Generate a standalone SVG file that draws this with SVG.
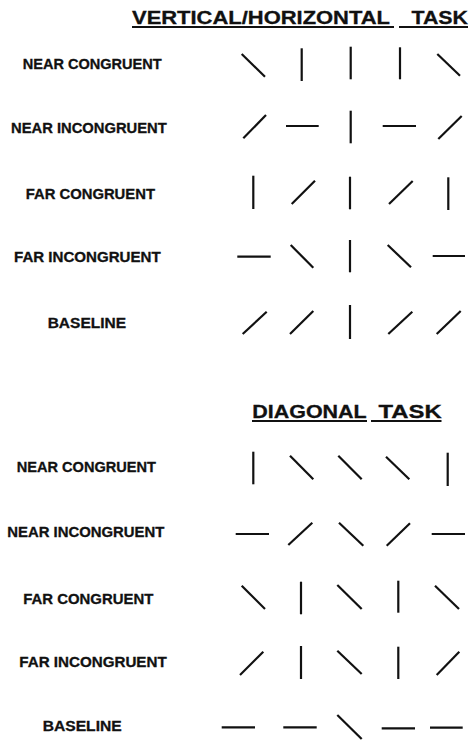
<svg xmlns="http://www.w3.org/2000/svg" width="470" height="740" viewBox="0 0 470 740">
<style>
  .ttl { font-family: "Liberation Sans", Arial, sans-serif; font-weight: bold; font-size: 18px; fill: #111; stroke: #111; stroke-width: 0.3; }
  .lbl { font-family: "Liberation Sans", Arial, sans-serif; font-weight: bold; font-size: 14px; fill: #111; stroke: #111; stroke-width: 0.3; }
  .ul { stroke: #111; stroke-width: 1.8; fill: none; }
  .seg { stroke: #111; stroke-width: 2.2; stroke-linecap: butt; fill: none; }
</style>
<rect width="470" height="740" fill="#fff"/>

<g id="title-vh">
  <text class="ttl" x="132" y="24" textLength="258" lengthAdjust="spacingAndGlyphs">VERTICAL/HORIZONTAL</text>
  <text class="ttl" x="411.5" y="24" textLength="56.5" lengthAdjust="spacingAndGlyphs">TASK</text>
  <line class="ul" x1="132" y1="27" x2="394" y2="27"/>
  <line class="ul" x1="399" y1="27" x2="468" y2="27"/>
</g>

<g id="vh-near-congruent">
  <text class="lbl" x="22.7" y="69.3" textLength="139" lengthAdjust="spacingAndGlyphs">NEAR CONGRUENT</text>
  <line class="seg" x1="241.7" y1="54" x2="265" y2="76.7"/>
  <line class="seg" x1="301.7" y1="48.3" x2="301.7" y2="81"/>
  <line class="seg" x1="350.7" y1="46.7" x2="350.7" y2="79.3"/>
  <line class="seg" x1="400" y1="47.3" x2="400" y2="79.3"/>
  <line class="seg" x1="437.3" y1="54" x2="460" y2="75.7"/>
</g>

<g id="vh-near-incongruent">
  <text class="lbl" x="11" y="133.3" textLength="155.7" lengthAdjust="spacingAndGlyphs">NEAR INCONGRUENT</text>
  <line class="seg" x1="243.3" y1="138.3" x2="266" y2="115"/>
  <line class="seg" x1="286" y1="126" x2="318.7" y2="126"/>
  <line class="seg" x1="350.7" y1="110.7" x2="350.7" y2="143.3"/>
  <line class="seg" x1="382.7" y1="126" x2="416" y2="126"/>
  <line class="seg" x1="438.3" y1="139" x2="461.7" y2="116"/>
</g>

<g id="vh-far-congruent">
  <text class="lbl" x="25.7" y="199" textLength="129.3" lengthAdjust="spacingAndGlyphs">FAR CONGRUENT</text>
  <line class="seg" x1="253.3" y1="175.7" x2="253.3" y2="209"/>
  <line class="seg" x1="291.7" y1="204" x2="315" y2="180.7"/>
  <line class="seg" x1="350" y1="176.7" x2="350" y2="209.3"/>
  <line class="seg" x1="389" y1="204" x2="412.7" y2="181"/>
  <line class="seg" x1="448.3" y1="177.3" x2="448.3" y2="210"/>
</g>

<g id="vh-far-incongruent">
  <text class="lbl" x="14" y="261.7" textLength="146.7" lengthAdjust="spacingAndGlyphs">FAR INCONGRUENT</text>
  <line class="seg" x1="237.3" y1="256.7" x2="270.7" y2="256.7"/>
  <line class="seg" x1="290.7" y1="245" x2="313.3" y2="267.7"/>
  <line class="seg" x1="350" y1="240" x2="350" y2="272.3"/>
  <line class="seg" x1="387.7" y1="245" x2="411" y2="267.3"/>
  <line class="seg" x1="432.7" y1="256" x2="465" y2="256"/>
</g>

<g id="vh-baseline">
  <text class="lbl" x="47.7" y="328.3" textLength="78.3" lengthAdjust="spacingAndGlyphs">BASELINE</text>
  <line class="seg" x1="242.7" y1="334" x2="266.7" y2="311.7"/>
  <line class="seg" x1="290" y1="334" x2="313.3" y2="311"/>
  <line class="seg" x1="350" y1="305" x2="350" y2="339"/>
  <line class="seg" x1="388.3" y1="334" x2="412.3" y2="311.7"/>
  <line class="seg" x1="436.7" y1="334" x2="460.7" y2="311"/>
</g>

<g id="title-diag">
  <text class="ttl" x="252.3" y="418.3" textLength="114.4" lengthAdjust="spacingAndGlyphs">DIAGONAL</text>
  <text class="ttl" x="378.5" y="418.3" textLength="63.2" lengthAdjust="spacingAndGlyphs">TASK</text>
  <line class="ul" x1="252" y1="421" x2="367" y2="421"/>
  <line class="ul" x1="371" y1="421" x2="441.5" y2="421"/>
</g>

<g id="d-near-congruent">
  <text class="lbl" x="16.7" y="472.3" textLength="139.3" lengthAdjust="spacingAndGlyphs">NEAR CONGRUENT</text>
  <line class="seg" x1="253.3" y1="451.7" x2="253.3" y2="484.3"/>
  <line class="seg" x1="290" y1="455.7" x2="313.3" y2="479.3"/>
  <line class="seg" x1="338.3" y1="455.7" x2="361.7" y2="479.3"/>
  <line class="seg" x1="386" y1="456.7" x2="409.3" y2="479.3"/>
  <line class="seg" x1="447.7" y1="452.7" x2="447.7" y2="486"/>
</g>

<g id="d-near-incongruent">
  <text class="lbl" x="7.3" y="537.3" textLength="157" lengthAdjust="spacingAndGlyphs">NEAR INCONGRUENT</text>
  <line class="seg" x1="235.7" y1="534" x2="269" y2="534"/>
  <line class="seg" x1="288.3" y1="545" x2="312.3" y2="522.7"/>
  <line class="seg" x1="339" y1="522.7" x2="363.3" y2="545.7"/>
  <line class="seg" x1="386.7" y1="545.7" x2="410" y2="523.3"/>
  <line class="seg" x1="431.7" y1="534" x2="465" y2="534"/>
</g>

<g id="d-far-congruent">
  <text class="lbl" x="23.3" y="604" textLength="130" lengthAdjust="spacingAndGlyphs">FAR CONGRUENT</text>
  <line class="seg" x1="241.7" y1="585.7" x2="265" y2="609"/>
  <line class="seg" x1="301" y1="581.7" x2="301" y2="614.3"/>
  <line class="seg" x1="337.3" y1="585" x2="361.7" y2="609"/>
  <line class="seg" x1="398.3" y1="580.7" x2="398.3" y2="612.7"/>
  <line class="seg" x1="435" y1="585.7" x2="459" y2="609"/>
</g>

<g id="d-far-incongruent">
  <text class="lbl" x="19.3" y="667.3" textLength="147.4" lengthAdjust="spacingAndGlyphs">FAR INCONGRUENT</text>
  <line class="seg" x1="240" y1="675" x2="263.3" y2="651.7"/>
  <line class="seg" x1="301" y1="646" x2="301" y2="679"/>
  <line class="seg" x1="337.3" y1="650.7" x2="361.7" y2="674"/>
  <line class="seg" x1="398.3" y1="646.7" x2="398.3" y2="679"/>
  <line class="seg" x1="436.7" y1="675" x2="459.3" y2="651.7"/>
</g>

<g id="d-baseline">
  <text class="lbl" x="42.7" y="730.7" textLength="79" lengthAdjust="spacingAndGlyphs">BASELINE</text>
  <line class="seg" x1="221.7" y1="727.3" x2="255" y2="727.3"/>
  <line class="seg" x1="283.3" y1="727.3" x2="316.7" y2="727.3"/>
  <line class="seg" x1="337.3" y1="715" x2="361.7" y2="739"/>
  <line class="seg" x1="381.7" y1="728.3" x2="415" y2="728.3"/>
  <line class="seg" x1="430" y1="727.7" x2="462.7" y2="727.7"/>
</g>
</svg>
